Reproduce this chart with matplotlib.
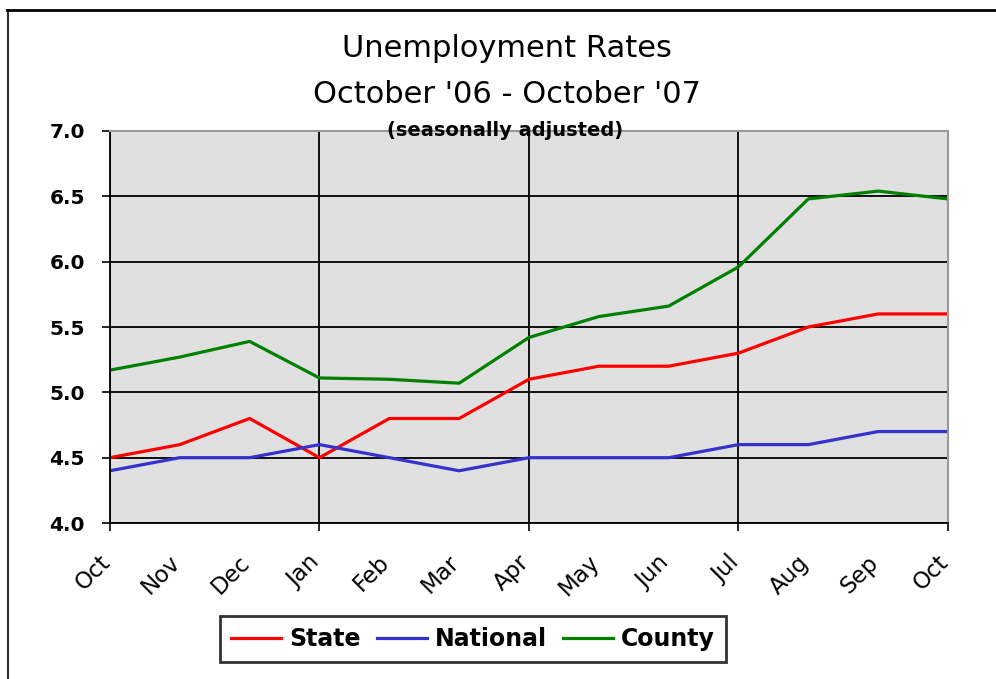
import matplotlib
matplotlib.use("Agg")
import matplotlib.pyplot as plt
from matplotlib.lines import Line2D
from matplotlib.transforms import ScaledTranslation
import numpy as np

# Data
months = ["Oct", "Nov", "Dec", "Jan", "Feb", "Mar", "Apr",
          "May", "Jun", "Jul", "Aug", "Sep", "Oct"]
state = [4.5, 4.6, 4.8, 4.5, 4.8, 4.8, 5.1, 5.2, 5.2, 5.3, 5.5, 5.6, 5.6]
national = [4.4, 4.5, 4.5, 4.6, 4.5, 4.4, 4.5, 4.5, 4.5, 4.6, 4.6, 4.7, 4.7]
county = [5.17, 5.27, 5.39, 5.11, 5.10, 5.07, 5.42, 5.58, 5.66, 5.96, 6.48, 6.54, 6.48]
y_ticks = [4.0, 4.5, 5.0, 5.5, 6.0, 6.5, 7.0]

plt.rcParams['font.family'] = ['DejaVu Sans']

fig = plt.figure(figsize=(9.96, 6.79), dpi=100)
ax = fig.add_axes([0.1104, 0.2297, 0.8414, 0.5774])
ax.set_facecolor('#e0e0e0')

x = np.arange(len(months))

# Plot the three series
ax.plot(x, state, color='#ff0000', linewidth=2.3, label='State')
ax.plot(x, national, color='#3333cc', linewidth=2.3, label='National')
ax.plot(x, county, color='#008000', linewidth=2.3, label='County')

ax.set_xlim(0, len(months) - 1)
ax.set_ylim(4.0, 7.0)

# Labels every month, ticks and gridlines every quarter
ax.xaxis.remove_overlapping_locs = False
ax.set_xticks(x)
ax.set_xticklabels(months, rotation=45, ha='right', va='top',
                   rotation_mode='anchor', fontsize=16.5)
ax.tick_params(axis='x', which='major', length=0, pad=20)
shift = ScaledTranslation(-8 / 72, 0, fig.dpi_scale_trans)
for lbl in ax.get_xticklabels():
    lbl.set_transform(lbl.get_transform() + shift)
ax.set_xticks(x[::3], minor=True)
ax.tick_params(axis='x', which='minor', direction='out', length=6, width=1.2)

ax.set_yticks(y_ticks)
ax.set_yticklabels([f"{v:.1f}" for v in y_ticks], fontsize=14.5, fontweight='bold')
ax.tick_params(axis='y', direction='out', length=6, width=1.2, pad=12)

ax.grid(True, axis='y', which='major', color='black', linewidth=1.3)
ax.grid(True, axis='x', which='minor', color='black', linewidth=1.3)
ax.set_axisbelow(True)

for side in ['top', 'right']:
    ax.spines[side].set_color('#999999')
    ax.spines[side].set_linewidth(1.5)
for side in ['left', 'bottom']:
    ax.spines[side].set_color('black')
    ax.spines[side].set_linewidth(1.3)

# Titles
fig.text(0.509, 0.916, "Unemployment Rates", ha='center', va='baseline', fontsize=22)
fig.text(0.509, 0.848, "October '06 - October '07", ha='center', va='baseline', fontsize=22)
fig.text(0.507, 0.808, "(seasonally adjusted)", ha='center', va='center',
         fontsize=14, fontweight='bold')

leg = fig.legend(loc='center', bbox_to_anchor=(0.475, 0.059), ncol=3,
                 frameon=True, fancybox=False, edgecolor='black',
                 prop={'size': 17, 'weight': 'bold'}, handlelength=2.1,
                 handletextpad=0.35, columnspacing=0.7, borderpad=0.45)
leg.get_frame().set_linewidth(2)

# Image border lines (top and left)
fig.add_artist(Line2D([0.007, 1.0], [0.985, 0.985], color='black', linewidth=2,
                      transform=fig.transFigure))
fig.add_artist(Line2D([0.008, 0.008], [0.0, 0.985], color='black', linewidth=1.2,
                      transform=fig.transFigure))

fig.savefig("out.png", dpi=100)
